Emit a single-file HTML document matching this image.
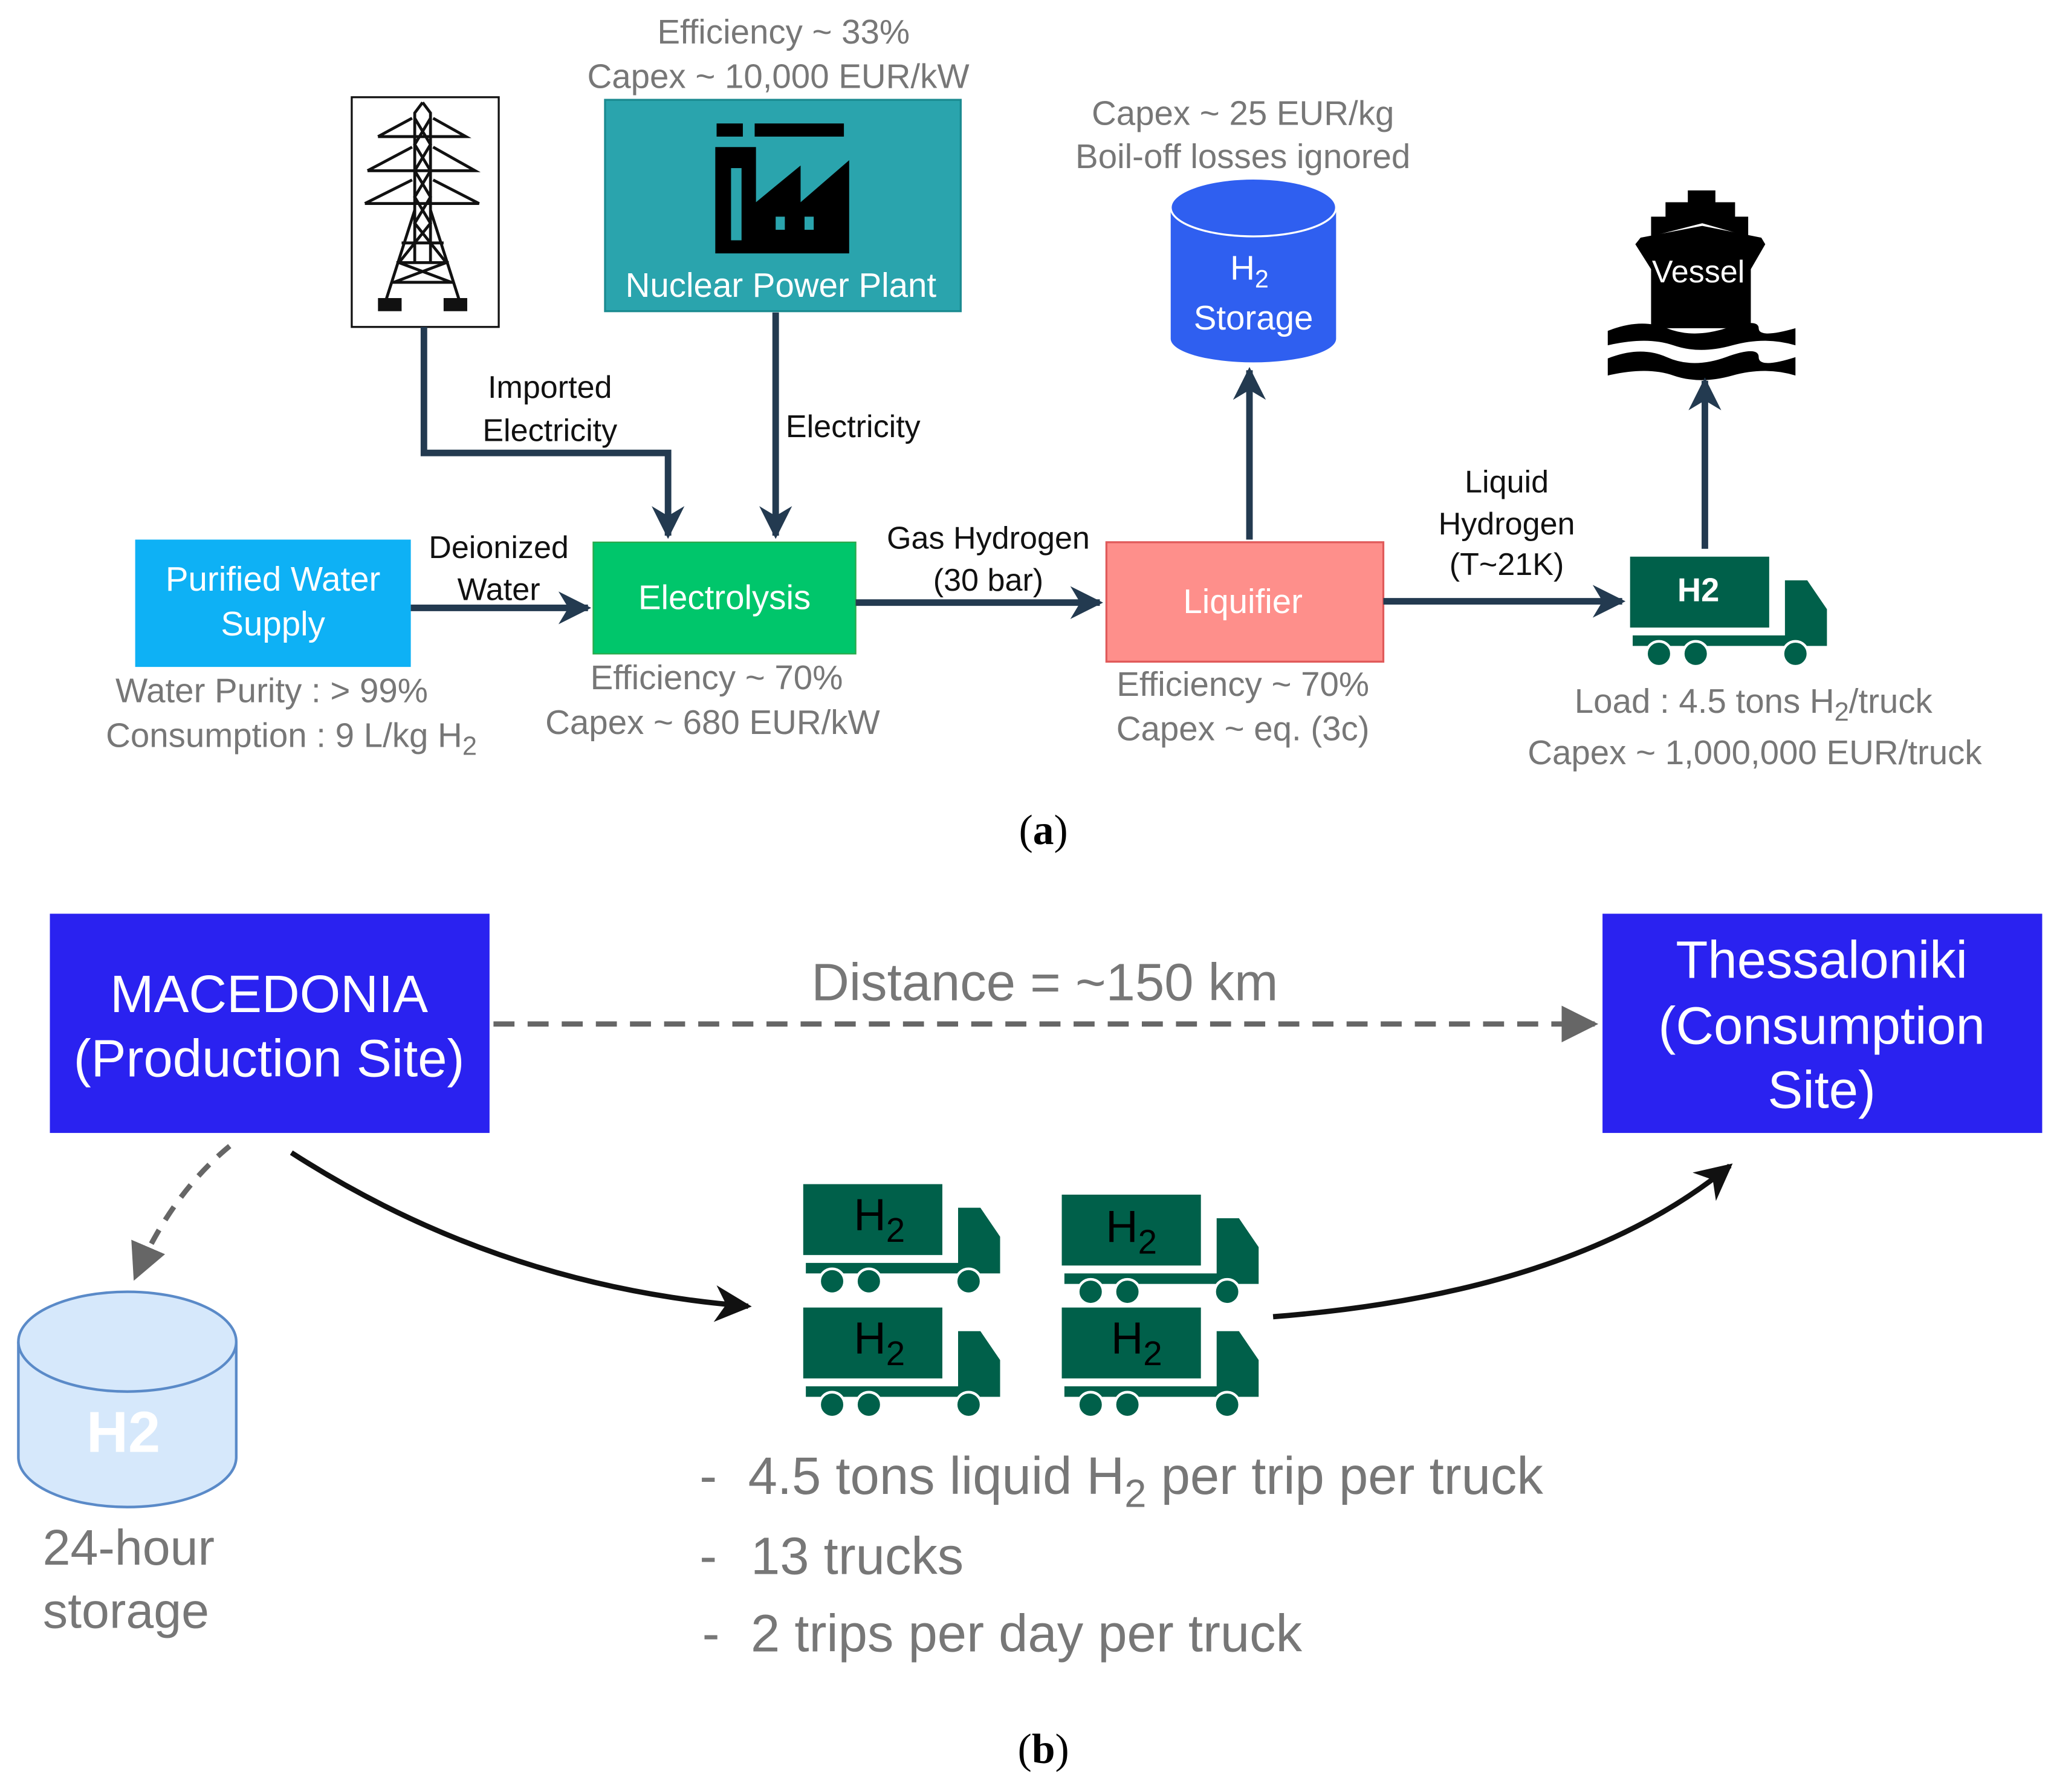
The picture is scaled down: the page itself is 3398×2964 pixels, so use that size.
<!DOCTYPE html>
<html><head><meta charset="utf-8"><style>html,body{margin:0;padding:0;background:#fff}svg{display:block}</style></head>
<body>
<svg width="3398" height="2964" viewBox="0 0 1565 1365" xmlns="http://www.w3.org/2000/svg" font-family="Liberation Sans, Arial, sans-serif">
<defs>
<marker id="ah" viewBox="0 0 10 10" refX="9" refY="5" markerWidth="5" markerHeight="5" orient="auto" markerUnits="strokeWidth"><path d="M0,0 L10,5 L0,10 L3,5 Z" fill="#233a50"/></marker>
<marker id="ak" viewBox="0 0 10 10" refX="9" refY="5" markerWidth="7" markerHeight="7" orient="auto" markerUnits="strokeWidth"><path d="M0,0 L10,5 L0,10 L3,5 Z" fill="#111"/></marker>
<marker id="ag" viewBox="0 0 10 10" refX="9" refY="5" markerWidth="7" markerHeight="7" orient="auto" markerUnits="strokeWidth"><path d="M0,0 L10,5 L0,10 Z" fill="#666"/></marker>
<g id="truck">
<rect x="0" y="0" width="106" height="54" fill="#00604a"/>
<path d="M118,18 H135 L150,40 V68 H2 V60 H118 Z" fill="#00604a"/>
<circle cx="22" cy="74" r="9.5" fill="#00604a" stroke="#fff" stroke-width="2"/>
<circle cx="50" cy="74" r="9.5" fill="#00604a" stroke="#fff" stroke-width="2"/>
<circle cx="126" cy="74" r="9.5" fill="#00604a" stroke="#fff" stroke-width="2"/>
</g>
</defs>
<g fill="#777" font-size="26" text-anchor="middle">
<text x="597" y="33">Efficiency ~ 33%</text>
<text x="593" y="67">Capex ~ 10,000 EUR/kW</text>
<text x="947" y="95">Capex ~ 25 EUR/kg</text>
<text x="947" y="128">Boil-off losses ignored</text>
<text x="207" y="535">Water Purity : &gt; 99%</text>
<text x="222" y="569">Consumption : 9 L/kg H<tspan font-size="20" dy="6">2</tspan></text>
<text x="546" y="525">Efficiency ~ 70%</text>
<text x="543" y="559">Capex ~ 680 EUR/kW</text>
<text x="947" y="530">Efficiency ~ 70%</text>
<text x="947" y="564">Capex ~ eq. (3c)</text>
<text x="1336" y="543">Load : 4.5 tons H<tspan font-size="20" dy="6">2</tspan><tspan dy="-6">/truck</tspan></text>
<text x="1337" y="582">Capex ~ 1,000,000 EUR/truck</text>
</g>
<!-- pylon -->
<rect x="268" y="74" width="112" height="175" fill="#fff" stroke="#111" stroke-width="1.5"/>
<g stroke="#111" stroke-width="2.2" fill="none">
<path d="M322,78 L316,86 L316,200 M322,78 L328,86 L328,200"/>
<path d="M288,104 H355 L330,90 M288,104 L314,90"/>
<path d="M280,130 H362 L330,112 M280,130 L314,112"/>
<path d="M278,155 H365 L330,137 M278,155 L314,137"/>
<path d="M316,160 L293,232 M328,160 L351,232 M302,200 H342 M298,215 H346 M306,185 H338"/>
<path d="M316,90 L328,110 L316,130 L328,150 L316,170 L340,200 L300,215 M328,90 L316,110 L328,130 L316,150 L328,170 L304,200 L344,215"/>
</g>
<rect x="288" y="227" width="18" height="10" fill="#111"/><rect x="338" y="227" width="18" height="10" fill="#111"/>
<!-- nuclear -->
<rect x="461" y="76" width="271" height="161" fill="#2aa4ad" stroke="#1a8a90" stroke-width="1.5"/>
<rect x="546" y="94" width="20" height="10" fill="#000"/><rect x="575" y="94" width="68" height="10" fill="#000"/>
<path d="M545,112 H576 V154 L610,126 V154 L647,122 V193 H545 Z" fill="#000"/>
<rect x="557" y="128" width="8" height="55" fill="#2aa4ad"/>
<rect x="591" y="165" width="7" height="10" fill="#2aa4ad"/><rect x="613" y="165" width="7" height="10" fill="#2aa4ad"/>
<text x="595" y="226" fill="#fff" font-size="26" text-anchor="middle">Nuclear Power Plant</text>
<!-- storage cylinder -->
<path d="M892,158 V258 A63,18 0 0 0 1018,258 V158" fill="#2f5ff0"/>
<ellipse cx="955" cy="158" rx="63" ry="22" fill="#2f5ff0" stroke="#fff" stroke-width="1.5"/>
<text x="952" y="213" fill="#fff" font-size="26" text-anchor="middle">H<tspan font-size="19" dy="6">2</tspan></text>
<text x="955" y="251" fill="#fff" font-size="26" text-anchor="middle">Storage</text>
<!-- vessel -->
<g fill="#000">
<rect x="1286" y="145" width="21" height="9"/>
<path d="M1269,154 H1322 V165 H1332 V180 L1297,170 L1258,180 V165 H1269 Z"/>
<path d="M1250,181 L1297,172 L1342,181 L1345,186 L1334,205 V250 H1258 V205 L1246,186 Z"/>
<path d="M1225,252 Q1250,242 1270,250 T1315,250 T1340,250 T1368,250 V263 Q1345,256 1320,263 T1275,263 T1225,263 Z"/>
<path d="M1225,273 Q1250,263 1270,272 T1315,272 T1340,272 T1368,272 V286 Q1345,279 1320,286 T1275,286 T1225,286 Z"/>
</g>
<text x="1294" y="215" fill="#fff" font-size="24" text-anchor="middle">Vessel</text>
<!-- boxes row -->
<rect x="103" y="411" width="210" height="97" fill="#0eb1f5"/>
<text x="208" y="450" fill="#fff" font-size="26" text-anchor="middle">Purified Water</text>
<text x="208" y="484" fill="#fff" font-size="26" text-anchor="middle">Supply</text>
<rect x="452" y="413" width="200" height="85" fill="#00c66b" stroke="#2aa84a"/>
<text x="552" y="464" fill="#fff" font-size="26" text-anchor="middle">Electrolysis</text>
<rect x="843" y="413" width="211" height="91" fill="#fe8f8b" stroke="#e05a5a" stroke-width="1.5"/>
<text x="947" y="467" fill="#fff" font-size="26" text-anchor="middle">Liquifier</text>
<use href="#truck" x="1242" y="424"/>
<text x="1294" y="458" fill="#fff" font-size="25" font-weight="bold" text-anchor="middle">H2</text>
<!-- arrows a -->
<g stroke="#233a50" stroke-width="5" fill="none" marker-end="url(#ah)">
<path d="M323,249 V345 H509 V408"/>
<path d="M591,238 V408"/>
<path d="M313,463 H448"/>
<path d="M652,459 H838"/>
<path d="M1054,458 H1236"/>
<path d="M952,411 V282"/>
<path d="M1299,418 V290"/>
</g>
<g fill="#111" font-size="24" text-anchor="middle">
<text x="419" y="303">Imported</text><text x="419" y="336">Electricity</text>
<text x="650" y="333">Electricity</text>
<text x="380" y="425">Deionized</text><text x="380" y="457">Water</text>
<text x="753" y="418">Gas Hydrogen</text><text x="753" y="450">(30 bar)</text>
<text x="1148" y="375">Liquid</text><text x="1148" y="407">Hydrogen</text><text x="1148" y="438">(T~21K)</text>
</g>
<text x="795" y="643" font-family="Liberation Serif, serif" font-size="32" text-anchor="middle" fill="#000">(<tspan font-weight="bold">a</tspan>)</text>
<!-- part b -->
<rect x="38" y="696" width="335" height="167" fill="#2a22f0"/>
<text x="205" y="771" fill="#fff" font-size="40" text-anchor="middle">MACEDONIA</text>
<text x="205" y="820" fill="#fff" font-size="40" text-anchor="middle">(Production Site)</text>
<rect x="1221" y="696" width="335" height="167" fill="#2a22f0"/>
<text x="1388" y="745" fill="#fff" font-size="40" text-anchor="middle">Thessaloniki</text>
<text x="1388" y="795" fill="#fff" font-size="40" text-anchor="middle">(Consumption</text>
<text x="1388" y="844" fill="#fff" font-size="40" text-anchor="middle">Site)</text>
<text x="796" y="762" fill="#777" font-size="40" text-anchor="middle">Distance = ~150 km</text>
<path d="M376,780 H1215" stroke="#666" stroke-width="4" stroke-dasharray="16,10" fill="none" marker-end="url(#ag)"/>
<path d="M175,873 Q130,910 103,973" stroke="#666" stroke-width="4" stroke-dasharray="12,9" fill="none" marker-end="url(#ag)"/>
<path d="M222,878 Q380,980 570,995" stroke="#111" stroke-width="4" fill="none" marker-end="url(#ak)"/>
<path d="M970,1003 Q1200,985 1318,888" stroke="#111" stroke-width="4" fill="none" marker-end="url(#ak)"/>
<!-- storage b -->
<path d="M14,1022 V1110 A83,38 0 0 0 180,1110 V1022" fill="#d6e8fb" stroke="#5a8ac8" stroke-width="2"/>
<ellipse cx="97" cy="1022" rx="83" ry="38" fill="#d6e8fb" stroke="#5a8ac8" stroke-width="2"/>
<text x="94" y="1106" fill="#fff" font-size="44" font-weight="bold" text-anchor="middle">H2</text>
<text x="98" y="1192" fill="#777" font-size="38" text-anchor="middle">24-hour</text>
<text x="96" y="1240" fill="#777" font-size="38" text-anchor="middle">storage</text>
<!-- trucks -->
<use href="#truck" x="612" y="902"/>
<use href="#truck" x="809" y="910"/>
<use href="#truck" x="612" y="996"/>
<use href="#truck" x="809" y="996"/>
<g font-size="34" fill="#000" text-anchor="middle">
<text x="670" y="937">H<tspan font-size="26" dy="9">2</tspan></text>
<text x="862" y="946">H<tspan font-size="26" dy="9">2</tspan></text>
<text x="670" y="1031">H<tspan font-size="26" dy="9">2</tspan></text>
<text x="866" y="1031">H<tspan font-size="26" dy="9">2</tspan></text>
</g>
<g fill="#777" font-size="40">
<text x="533" y="1138">-</text><text x="533" y="1199">-</text><text x="535" y="1258">-</text>
<text x="570" y="1138">4.5 tons liquid H<tspan font-size="30" dy="10">2</tspan><tspan dy="-10"> per trip per truck</tspan></text>
<text x="572" y="1199">13 trucks</text>
<text x="572" y="1258">2 trips per day per truck</text>
</g>
<text x="795" y="1343" font-family="Liberation Serif, serif" font-size="32" text-anchor="middle" fill="#000">(<tspan font-weight="bold">b</tspan>)</text>
</svg>
</body></html>
